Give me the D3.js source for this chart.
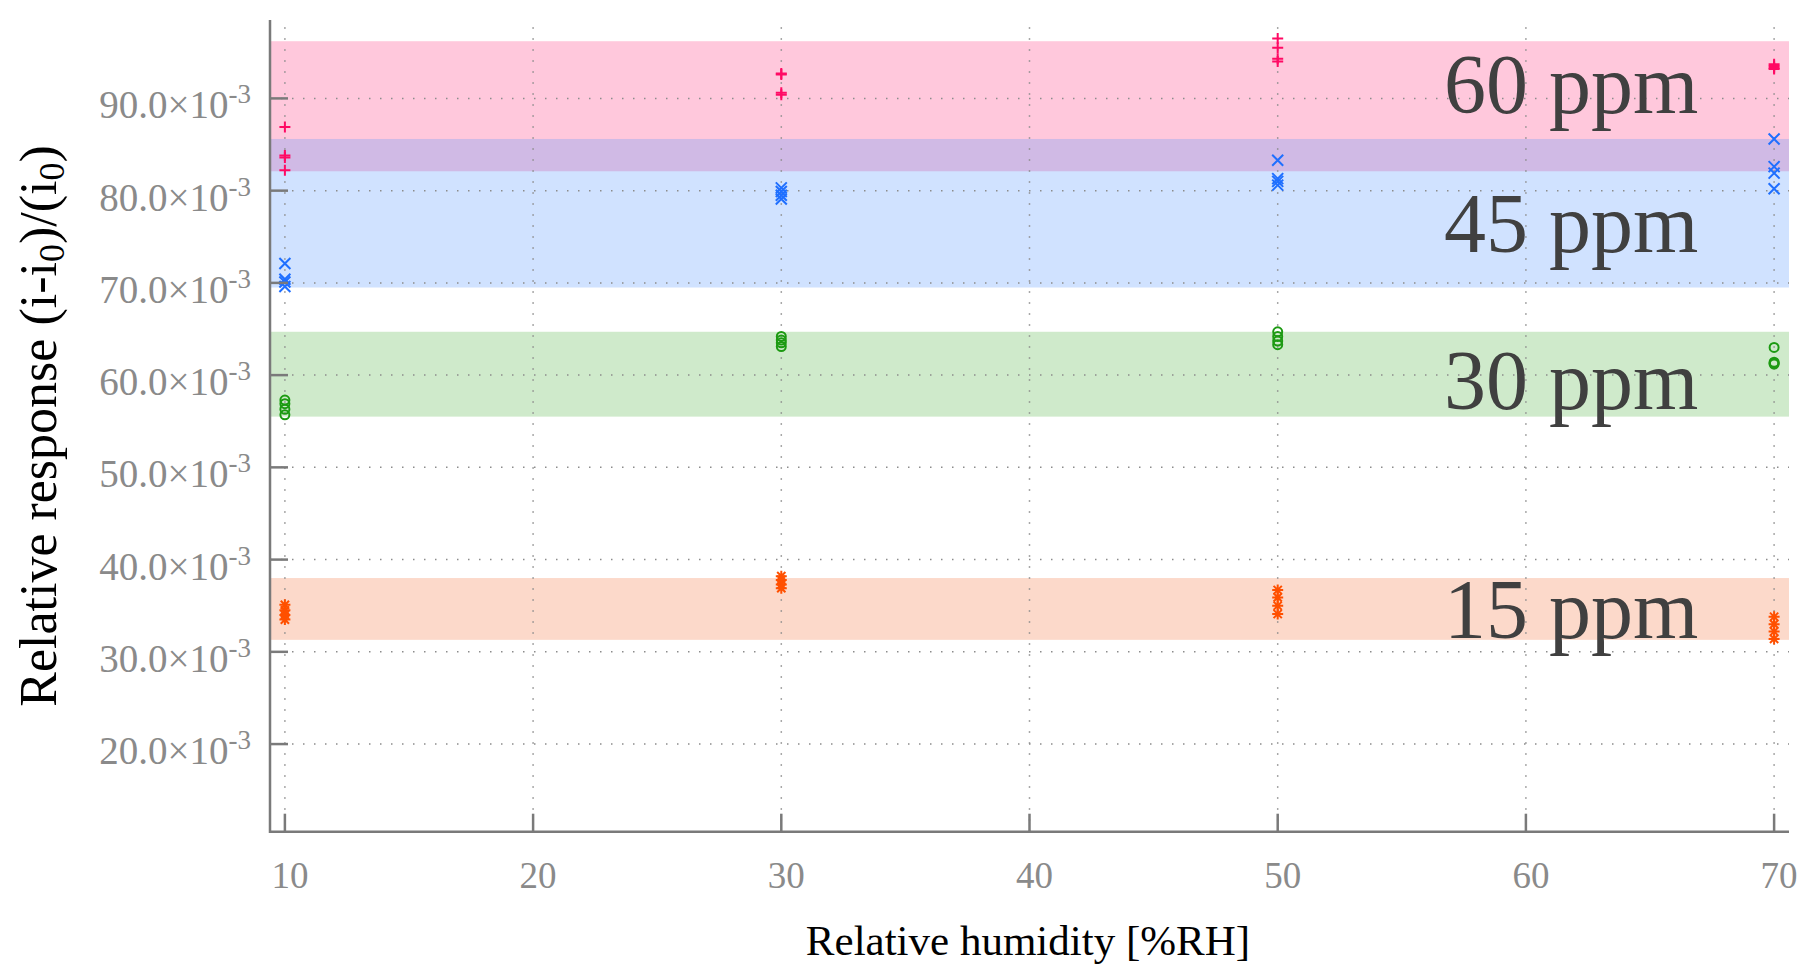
<!DOCTYPE html>
<html>
<head>
<meta charset="utf-8">
<script src="https://cdn.jsdelivr.net/npm/d3@7"></script>
<style>
  body { margin: 0; background: #fff; }
  svg { display: block; font-family: "Liberation Serif", "DejaVu Serif", serif; }
</style>
</head>
<body>
<svg id="chart" width="1804" height="968"></svg>
<script>
// humidity steps on the x axis
const humidity = [10, 30, 50, 70];

// concentrations, in the order they are drawn
const concentrations = ["60 ppm", "45 ppm", "30 ppm", "15 ppm"];

// relative response x 1e3, one list of repeats for each humidity step
const response60 = [
  [86.9, 83.8, 83.6, 82.2],
  [92.7, 92.6, 90.6, 90.4],
  [96.5, 95.5, 94.3, 94.0],
  [93.7, 93.5, 93.3, 93.2],
];
const response45 = [
  [72.1, 70.4, 70.1, 69.6],
  [80.3, 79.9, 79.5, 79.1],
  [83.3, 81.3, 81.0, 80.6],
  [85.6, 82.6, 81.9, 80.2],
];
const response30 = [
  [57.3, 56.9, 56.3, 55.7],
  [64.2, 63.8, 63.5, 63.1],
  [64.7, 64.2, 63.7, 63.3],
  [63.0, 61.4, 61.3, 61.2],
];
const response15 = [
  [35.1, 34.5, 34.0, 33.5],
  [38.2, 37.8, 37.3, 36.9],
  [36.7, 35.9, 35.0, 34.1],
  [33.8, 33.0, 32.2, 31.4],
];

// shaded band for each concentration [low, high]
const bandLow = [82.1, 69.5, 55.5, 31.3];
const bandHigh = [96.2, 85.6, 64.7, 38.0];

// label placement (x in %RH, y is the baseline in response units)
const labelX = 56.7;
const labelY = [88.4, 73.3, 56.3, 31.5];

const xTicks = [10, 20, 30, 40, 50, 60, 70];
const yTicks = [20, 30, 40, 50, 60, 70, 80, 90];

const responses = [response60, response45, response30, response15];
const markerColors = ["#ff0a64", "#1f6fff", "#1c9a12", "#ff5000"];
const bandColors = ["#ff347e", "#5194ff", "#4fb040", "#f5733c"];
const markerShapes = ["plus", "cross", "circle", "star"];

const svg = d3.select("#chart");

const x = d3.scaleLinear().domain([9.4, 70.6]).range([270, 1789]);
const y = d3.scaleLinear().domain([10.5, 98.5]).range([831.7, 20]);

const series = concentrations.map((name, i) => ({
  name,
  color: markerColors[i],
  band: bandColors[i],
  shape: markerShapes[i],
  low: bandLow[i],
  high: bandHigh[i],
  labelY: labelY[i],
  points: responses[i].flatMap((reps, j) =>
    reps.map((v) => ({ x: humidity[j], y: v }))
  ),
}));

/**
 * Bands
 */
svg
  .append("g")
  .selectAll("rect")
  .data(series)
  .join("rect")
  .attr("x", x.range()[0])
  .attr("width", x.range()[1] - x.range()[0])
  .attr("y", (d) => y(d.high))
  .attr("height", (d) => y(d.low) - y(d.high))
  .attr("fill", (d) => d.band)
  .attr("fill-opacity", 0.27);

/**
 * Grid
 */
const gridG = svg.append("g").attr("class", "grid");
gridG
  .selectAll(".grid-x")
  .data(xTicks)
  .join("line")
  .attr("x1", (d) => x(d))
  .attr("x2", (d) => x(d))
  .attr("y1", y.range()[0])
  .attr("y2", y.range()[1])
  .attr("stroke", "#8c8c8c")
  .attr("stroke-width", 1.5)
  .attr("stroke-dasharray", "1.5,9.5");
gridG
  .selectAll(".grid-y")
  .data(yTicks)
  .join("line")
  .attr("y1", (d) => y(d))
  .attr("y2", (d) => y(d))
  .attr("x1", x.range()[0])
  .attr("x2", x.range()[1])
  .attr("stroke", "#8c8c8c")
  .attr("stroke-width", 1.5)
  .attr("stroke-dasharray", "1.5,9.5");

/**
 * Markers
 */
const s = 5.5;
const shapePath = {
  plus: `M${-s},0H${s}M0,${-s}V${s}`,
  cross: `M${-s},${-s}L${s},${s}M${-s},${s}L${s},${-s}`,
  star: `M${-s},0H${s}M0,${-s}V${s}M${-s * 0.75},${-s * 0.75}L${s * 0.75},${s * 0.75}M${-s * 0.75},${s * 0.75}L${s * 0.75},${-s * 0.75}`,
};

const markersG = svg
  .append("g")
  .selectAll(".markers")
  .data(series)
  .join("g")
  .attr("class", "markers")
  .attr("stroke", (d) => d.color)
  .attr("fill", "none")
  .attr("stroke-width", 2);

markersG.each(function (d) {
  const g = d3.select(this);
  const pts = g
    .selectAll(".pt")
    .data(d.points)
    .join(d.shape === "circle" ? "circle" : "path")
    .attr("class", "pt");
  if (d.shape === "circle") {
    pts.attr("cx", (p) => x(p.x)).attr("cy", (p) => y(p.y)).attr("r", 4.5);
  } else {
    pts
      .attr("transform", (p) => `translate(${x(p.x)},${y(p.y)})`)
      .attr("d", shapePath[d.shape]);
  }
});

/**
 * Labels
 */
svg
  .append("g")
  .selectAll("text")
  .data(series)
  .join("text")
  .attr("x", x(labelX))
  .attr("y", (d) => y(d.labelY))
  .attr("fill", "#404040")
  .attr("font-size", 84)
  .text((d) => d.name);

/**
 * Axes
 */
const axisColor = "#7a7a7a";
const axisG = svg.append("g").attr("class", "axes");

axisG
  .append("path")
  .attr("d", `M${x.range()[0]},${y.range()[1]}V${y.range()[0]}H${x.range()[1]}`)
  .attr("fill", "none")
  .attr("stroke", axisColor)
  .attr("stroke-width", 2.5);

axisG
  .selectAll(".ytick")
  .data(yTicks)
  .join("line")
  .attr("x1", x.range()[0])
  .attr("x2", x.range()[0] + 18)
  .attr("y1", (d) => y(d))
  .attr("y2", (d) => y(d))
  .attr("stroke", axisColor)
  .attr("stroke-width", 2.5);

axisG
  .selectAll(".xtick")
  .data(xTicks)
  .join("line")
  .attr("x1", (d) => x(d))
  .attr("x2", (d) => x(d))
  .attr("y1", y.range()[0])
  .attr("y2", y.range()[0] - 18)
  .attr("stroke", axisColor)
  .attr("stroke-width", 2.5);

const tickColor = "#8a8a8a";

const yLabel = axisG
  .selectAll(".ylabel")
  .data(yTicks)
  .join("text")
  .attr("class", "ylabel")
  .attr("x", 251)
  .attr("y", (d) => y(d) + 20)
  .attr("text-anchor", "end")
  .attr("fill", tickColor)
  .attr("font-size", 39);
yLabel.append("tspan").text((d) => `${d.toFixed(1)}×10`);
yLabel
  .append("tspan")
  .attr("font-size", 27)
  .attr("dy", -15)
  .text("-3");

axisG
  .selectAll(".xlabel")
  .data(xTicks)
  .join("text")
  .attr("class", "xlabel")
  .attr("x", (d) => x(d) + 5)
  .attr("y", 888)
  .attr("text-anchor", "middle")
  .attr("fill", tickColor)
  .attr("font-size", 37)
  .text((d) => d);

svg
  .append("text")
  .attr("x", 1028)
  .attr("y", 955)
  .attr("text-anchor", "middle")
  .attr("fill", "#000")
  .attr("font-size", 43)
  .text("Relative humidity [%RH]");

const yTitle = svg
  .append("text")
  .attr("transform", "translate(56,426) rotate(-90)")
  .attr("text-anchor", "middle")
  .attr("fill", "#000")
  .attr("font-size", 52);
yTitle.append("tspan").text("Relative response (i-i");
yTitle.append("tspan").attr("font-size", 36).attr("dy", 8).text("0");
yTitle.append("tspan").attr("dy", -8).text(")/(i");
yTitle.append("tspan").attr("font-size", 36).attr("dy", 8).text("0");
yTitle.append("tspan").attr("dy", -8).text(")");
</script>
</body>
</html>
